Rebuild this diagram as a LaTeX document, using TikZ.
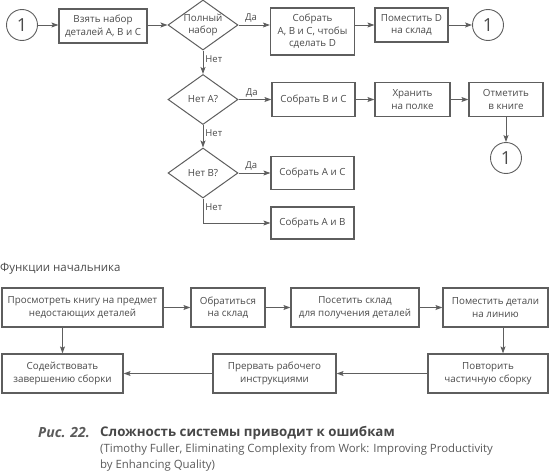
\documentclass[tikz,border=0pt]{standalone}
\usepackage{fontspec}
\setmainfont{Open Sans}
\usepackage{xcolor}
\definecolor{flowLine}{HTML}{5E5E5E}
\definecolor{flowText}{HTML}{4A4A4A}
\definecolor{capDark}{HTML}{474747}
\definecolor{capGray}{HTML}{5A5A5A}
\usetikzlibrary{shapes.geometric,arrows.meta,calc}
\tikzset{
    stepbox/.style={
        draw=flowLine,
        fill=white,
        rectangle,
        align=center,
        line width=1.2pt,
        inner sep=1pt,
        text=flowText,
        font=\fontsize{9.8}{12.5}\selectfont
    },
    decision/.style={
        draw=flowLine,
        fill=white,
        diamond,
        aspect=1.4,
        align=center,
        minimum width=70pt,
        minimum height=50pt,
        inner sep=0pt,
        line width=1pt,
        text=flowText,
        font=\fontsize{9.8}{12.5}\selectfont
    },
    connector/.style={
        draw=flowLine,
        circle,
        minimum size=31pt,
        inner sep=0pt,
        line width=0.9pt,
        text=flowText,
        font=\fontsize{18}{18}\selectfont
    },
    arrow/.style={
        -{Stealth[length=7pt,width=5pt,inset=1.5pt]},
        line width=0.9pt,
        color=flowLine
    },
    label/.style={
        font=\fontsize{9.5}{11}\selectfont,
        text=flowText,
        inner sep=2pt
    }
}

\begin{document}
\begin{tikzpicture}[x=1pt,y=-1pt]
    \useasboundingbox (0,0) rectangle (550,471);

    % Assembly line
    \node[connector] (start) at (22,25) {1};
    \node[stepbox, minimum width=88pt, minimum height=34pt] (take) at (103,26) {Взять набор\\деталей А, В и С};
    \node[decision] (full) at (203,25) {Полный\\набор};
    \node[stepbox, minimum width=84pt, minimum height=47pt] (build) at (312.5,31.5) {Собрать\\А, В и С, чтобы\\сделать D};
    \node[stepbox, minimum width=73pt, minimum height=34pt] (store) at (411.5,25) {Поместить D\\на склад};
    \node[connector] (again) at (488,25) {1};

    % Missing A
    \node[decision] (noa) at (203,99.5) {Нет А?};
    \node[stepbox, minimum width=83pt, minimum height=34pt] (buildbc) at (313.5,99.5) {Собрать В и С};
    \node[stepbox, minimum width=75pt, minimum height=34pt] (shelf) at (412.5,99.5) {Хранить\\на полке};
    \node[stepbox, minimum width=74pt, minimum height=34pt] (note) at (506,99.5) {Отметить\\в книге};
    \node[connector] (back) at (506,158) {1};

    % Missing B
    \node[decision] (nob) at (203,173) {Нет В?};
    \node[stepbox, minimum width=83pt, minimum height=33pt] (buildac) at (312.5,173) {Собрать А и С};
    \node[stepbox, minimum width=83pt, minimum height=32pt] (buildab) at (312.5,223) {Собрать А и В};

    % Arrows
    \draw[arrow] (start.east) -- (start.east -| take.west);
    \draw[arrow] (full.west -| take.east) -- (full.west);
    \draw[arrow] (full.east) -- node[label, above, pos=0.4] {Да} (full.east -| build.west);
    \draw[arrow] (store.west -| build.east) -- (store.west);
    \draw[arrow] (store) -- (again);
    \draw[arrow] (full) -- node[label, right, pos=0.35] {Нет} (noa);
    \draw[arrow] (noa) -- node[label, above, pos=0.4] {Да} (buildbc);
    \draw[arrow] (buildbc) -- (shelf);
    \draw[arrow] (shelf) -- (note);
    \draw[arrow] (note) -- (back);
    \draw[arrow] (noa) -- node[label, right, pos=0.35] {Нет} (nob);
    \draw[arrow] (nob) -- node[label, above, pos=0.4] {Да} (buildac);
    \draw[arrow] (nob.south) |- node[label, right, pos=0.18] {Нет} (buildab.west);

    % Foreman's duties
    \node[anchor=west, inner sep=0pt, text=flowText, font=\fontsize{11.5}{13}\selectfont] (boss) at (0,269) {Функции начальника};
    \node[stepbox, minimum width=161pt, minimum height=39pt] (review) at (82.5,307.5) {Просмотреть книгу на предмет\\недостающих деталей};
    \node[stepbox, minimum width=74pt, minimum height=39pt] (call) at (228,307.5) {Обратиться\\на склад};
    \node[stepbox, minimum width=128pt, minimum height=39pt] (visit) at (355,307.5) {Посетить склад\\для получения деталей};
    \node[stepbox, minimum width=105pt, minimum height=39pt] (deliver) at (495.5,307.5) {Поместить детали\\на линию};
    \node[stepbox, minimum width=121pt, minimum height=39pt] (assist) at (62.5,373.5) {Содействовать\\завершению сборки};
    \node[stepbox, minimum width=123pt, minimum height=39pt] (interrupt) at (274.5,373.5) {Прервать рабочего\\инструкциями};
    \node[stepbox, minimum width=120pt, minimum height=39pt] (redo) at (488,373.5) {Повторить\\частичную сборку};

    \draw[arrow] (review) -- (call);
    \draw[arrow] (call) -- (visit);
    \draw[arrow] (visit) -- (deliver);
    \draw[arrow] ([xshift=7.5pt]deliver.south) -- ([xshift=7.5pt]deliver.south |- redo.north);
    \draw[arrow] (redo) -- (interrupt);
    \draw[arrow] (interrupt) -- (assist);
    \draw[arrow] (assist.north |- review.south) -- (assist.north);

    % Caption
    \node[anchor=west, inner sep=0pt, text=capGray, font=\fontsize{14}{15}\selectfont\bfseries\itshape] (fignum) at (38,433) {Рис. 22.};
    \node[anchor=west, inner sep=0pt, text=capDark, font=\fontsize{13.3}{15}\selectfont\bfseries] (figtitle) at (100,433) {Сложность системы приводит к ошибкам};
    \node[anchor=west, inner sep=0pt, align=left, text=capGray, font=\fontsize{11.4}{16}\selectfont] (figsource) at (100,458) {(Timothy Fuller, Eliminating Complexity from Work: Improving Productivity\\by Enhancing Quality)};
\end{tikzpicture}
\end{document}
